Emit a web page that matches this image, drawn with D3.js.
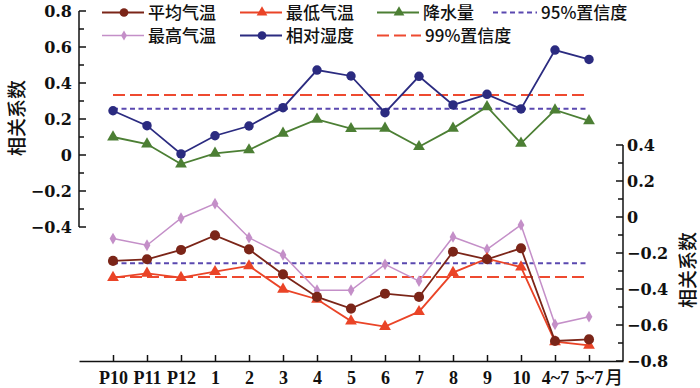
<!DOCTYPE html>
<html>
<head>
<meta charset="utf-8">
<script src="https://cdn.jsdelivr.net/npm/d3@7"></script>
<style>
  body { margin: 0; background: #fff; }
  svg text { fill: #111; }
  .tick-num { font-family: "DejaVu Serif", "Liberation Serif", serif; font-weight: bold; font-size: 16px; }
  .cjk { font-family: "Noto Sans CJK SC", sans-serif; font-weight: 500; }
</style>
</head>
<body>
<svg width="700" height="388"></svg>
<script>
// categories (months)
const months = ["P10", "P11", "P12", "1", "2", "3", "4", "5", "6", "7", "8", "9", "10", "4~7", "5~7"];

// upper group, left axis
const humidity = [0.246, 0.163, 0.006, 0.107, 0.161, 0.263, 0.472, 0.439, 0.235, 0.437, 0.278, 0.337, 0.256, 0.583, 0.531];
const precip = [0.10, 0.061, -0.05, 0.009, 0.028, 0.12, 0.198, 0.146, 0.148, 0.046, 0.148, 0.268, 0.065, 0.25, 0.19];

// lower group, right axis
const tMax = [-0.12, -0.157, -0.007, 0.074, -0.115, -0.211, -0.407, -0.407, -0.263, -0.356, -0.111, -0.18, -0.044, -0.596, -0.554];
const tMean = [-0.244, -0.235, -0.183, -0.102, -0.18, -0.319, -0.444, -0.509, -0.426, -0.444, -0.193, -0.235, -0.174, -0.689, -0.68];
const tMin = [-0.337, -0.313, -0.337, -0.304, -0.272, -0.402, -0.457, -0.578, -0.609, -0.526, -0.309, -0.231, -0.278, -0.693, -0.713];

// significance levels
const sig95 = 0.257;
const sig99 = 0.333;

const leftTicks = [0.8, 0.6, 0.4, 0.2, 0, -0.2, -0.4];
const rightTicks = [0.4, 0.2, 0, -0.2, -0.4, -0.6, -0.8];

const svg = d3.select("svg");
const fmt = d => d === 0 ? "0" : d3.format(".1f")(d).replace("-", "\u2212");

const x = d3.scalePoint().domain(months).range([79, 623]).padding(1);
const yL = d3.scaleLinear().domain([-0.4, 0.8]).range([227, 11]);
const yR = d3.scaleLinear().domain([-0.8, 0.4]).range([361, 145]);

const COL = {
  mean: "#7b2518", min: "#ea4427", precip: "#4c7f34",
  max: "#c48fc8", hum: "#2b2b80", d95: "#5a48b0", d99: "#ee4a30"
};

// left axis
const gl = svg.append("g").attr("transform", "translate(79,0)");
gl.append("line").attr("y1", yL(0.8)).attr("y2", yL(-0.4)).attr("stroke", "#111").attr("stroke-width", 1.5);
gl.selectAll(".mt").data(d3.range(-4, 9).map(d => d / 10)).join("line")
  .attr("x1", 0).attr("x2", d => Math.round(d * 10) % 2 === 0 ? 7 : 5)
  .attr("y1", d => yL(d)).attr("y2", d => yL(d))
  .attr("stroke", "#111").attr("stroke-width", 1.5);
gl.selectAll("text").data(leftTicks).join("text").attr("class", "tick-num")
  .attr("x", -7).attr("y", d => yL(d)).attr("dy", "0.35em").attr("text-anchor", "end").text(fmt);

// right axis
const gr = svg.append("g").attr("transform", "translate(623,0)");
gr.append("line").attr("y1", yR(0.4)).attr("y2", yR(-0.8)).attr("stroke", "#111").attr("stroke-width", 1.5);
gr.selectAll(".mt").data(d3.range(-8, 5).map(d => d / 10)).join("line")
  .attr("x1", 0).attr("x2", d => Math.round(d * 10) % 2 === 0 ? -7 : -5)
  .attr("y1", d => yR(d)).attr("y2", d => yR(d))
  .attr("stroke", "#111").attr("stroke-width", 1.5);
gr.selectAll("text").data(rightTicks).join("text").attr("class", "tick-num")
  .attr("x", 4).attr("y", d => yR(d)).attr("dy", "0.35em").text(fmt);

// x axis
const xAxis = d3.axisBottom(x).tickSizeInner(-6).tickSizeOuter(0).tickPadding(10);
svg.append("g").attr("transform", "translate(0,361)").call(xAxis)
  .call(g => g.select(".domain").attr("stroke", "#111").attr("stroke-width", 1.5))
  .call(g => g.selectAll(".tick line").attr("stroke", "#111").attr("stroke-width", 1.5))
  .call(g => g.selectAll(".tick text").attr("fill", "#111")
    .style("font-family", "'Liberation Serif', serif").style("font-weight", "bold")
    .style("font-size", "18px"));
svg.append("text").attr("class", "cjk").attr("x", 605).attr("y", 384)
  .style("font-size", "18px").text("月");

// axis titles
svg.append("text").attr("class", "cjk").style("font-size", "19px")
  .attr("transform", "translate(24,118) rotate(-90)").attr("text-anchor", "middle").text("相关系数");
svg.append("text").attr("class", "cjk").style("font-size", "19px")
  .attr("transform", "translate(695,270) rotate(-90)").attr("text-anchor", "middle").text("相关系数");

// significance lines
function hline(scale, v, color, dash) {
  svg.append("line")
    .attr("x1", x(months[0])).attr("x2", x(months[months.length - 1]))
    .attr("y1", scale(v)).attr("y2", scale(v))
    .attr("stroke", color).attr("stroke-width", 2).attr("stroke-dasharray", dash);
}
hline(yL, sig99, COL.d99, "12,5");
hline(yL, sig95, COL.d95, "5,3.5");
hline(yR, -sig95, COL.d95, "5,3.5");
hline(yR, -sig99, COL.d99, "12,5");

// symbols
const sym = {
  circle: d3.symbol().type(d3.symbolCircle),
  triangle: d3.symbol().type(d3.symbolTriangle),
  diamond: d3.symbol().type(d3.symbolDiamond)
};

function series(vals, scale, color, width, shape, size) {
  const g = svg.append("g");
  g.append("path").datum(vals)
    .attr("fill", "none").attr("stroke", color).attr("stroke-width", width)
    .attr("d", d3.line().x((d, i) => x(months[i])).y(d => scale(d)));
  g.selectAll("path.m").data(vals).join("path").attr("class", "m")
    .attr("transform", (d, i) => `translate(${x(months[i])},${scale(d)})`)
    .attr("d", sym[shape].size(size)()).attr("fill", color);
}

series(precip, yL, COL.precip, 1.8, "triangle", 60);
series(humidity, yL, COL.hum, 1.8, "circle", 70);
series(tMax, yR, COL.max, 1.5, "diamond", 40);
series(tMin, yR, COL.min, 1.8, "triangle", 60);
series(tMean, yR, COL.mean, 1.8, "circle", 80);

// legend
const legend = [
  { name: "平均气温", color: COL.mean, shape: "circle", size: 60, x: 102, y: 12.5, w: 1.8 },
  { name: "最低气温", color: COL.min, shape: "triangle", size: 50, x: 240, y: 12.5, w: 1.8 },
  { name: "降水量", color: COL.precip, shape: "triangle", size: 50, x: 377, y: 12.5, w: 1.8 },
  { name: "95%置信度", color: COL.d95, dash: "5,3.5", x: 493, y: 12.5 },
  { name: "最高气温", color: COL.max, shape: "diamond", size: 30, x: 102, y: 35.5, w: 1.5 },
  { name: "相对湿度", color: COL.hum, shape: "circle", size: 60, x: 240, y: 35.5, w: 1.8 },
  { name: "99%置信度", color: COL.d99, dash: "12,5", x: 377, y: 35.5 }
];
const lg = svg.selectAll(".lg").data(legend).join("g")
  .attr("transform", d => `translate(${d.x},${d.y})`);
lg.append("line").attr("x1", 0).attr("x2", d => d.dash ? 44 : 42)
  .attr("stroke", d => d.color).attr("stroke-width", d => d.dash ? 2 : d.w)
  .attr("stroke-dasharray", d => d.dash || null);
lg.filter(d => d.shape).append("path")
  .attr("transform", "translate(22,0)")
  .attr("d", d => sym[d.shape].size(d.size)()).attr("fill", d => d.color);
lg.append("text").attr("class", "cjk").style("font-size", "17px")
  .attr("x", d => d.dash ? 48 : 46).attr("dy", "0.36em").text(d => d.name);
</script>
</body>
</html>
